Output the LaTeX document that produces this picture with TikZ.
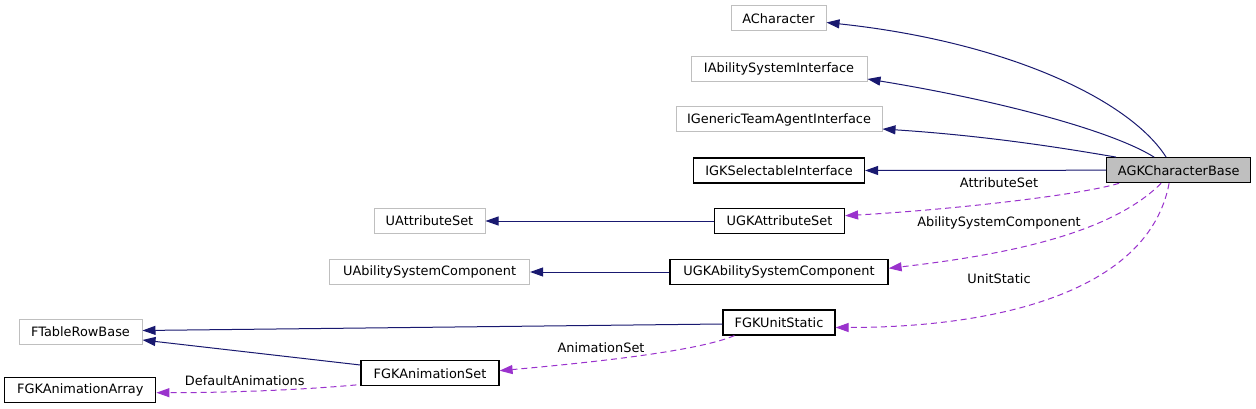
\documentclass[tikz,border=0pt]{standalone}
\usepackage{fontspec}
\setmainfont{DejaVu Sans}
\usetikzlibrary{arrows.meta}
\definecolor{navyedge}{HTML}{191970}
\definecolor{purpedge}{HTML}{9A32CD}
\definecolor{grayborder}{HTML}{BFBFBF}
\begin{document}
\begin{tikzpicture}[x=1pt,y=-1pt,
  box/.style={draw=black,line width=1.2pt,minimum height=25pt,inner sep=0pt,font=\fontsize{12.9}{15}\selectfont},
  extbox/.style={box,draw=grayborder,line width=1pt},
  mainbox/.style={box,fill=grayborder},
  lbl/.style={inner sep=0pt,font=\fontsize{12.9}{15}\selectfont},
  inh/.style={draw=navyedge,line width=1pt,-{Triangle[length=13pt,width=9pt]}},
  use/.style={draw=purpedge,line width=1pt,dash pattern=on 6pt off 4pt,-{Triangle[length=13pt,width=9pt]}}
]
\fill[white] (0,0) rectangle (1256,409);
\useasboundingbox (0,0) rectangle (1256,409);

% nodes
\node[extbox,minimum width=95pt]  (achar)   at (778.5,18.5) {ACharacter};
\node[extbox,minimum width=176pt] (iabil)   at (779,69)     {IAbilitySystemInterface};
\node[extbox,minimum width=206pt] (igen)    at (779,119.5)  {IGenericTeamAgentInterface};
\node[box,minimum width=171pt]    (igk)     at (779,170.5)  {IGKSelectableInterface};
\node[mainbox,minimum width=144pt] (agk)    at (1178.7,170.2) {AGKCharacterBase};
\node[extbox,minimum width=111pt] (uattr)   at (429.5,221)  {UAttributeSet};
\node[box,minimum width=130pt]    (ugkattr) at (779.5,221)  {UGKAttributeSet};
\node[extbox,minimum width=200pt] (uasc)    at (429.6,272)  {UAbilitySystemComponent};
\node[box,minimum width=218pt]    (ugkasc)  at (779,272)    {UGKAbilitySystemComponent};
\node[extbox,minimum width=123pt] (ftable)  at (80.5,331.5) {FTableRowBase};
\node[box,minimum width=112pt]    (fgkunit) at (779,322.5)  {FGKUnitStatic};
\node[box,minimum width=138pt]    (fgkaset) at (430,373.3)  {FGKAnimationSet};
\node[box,minimum width=151pt]    (fgkaarr) at (80.3,390.3) {FGKAnimationArray};

% labels
\node[lbl] (lattr) at (999,183)   {AttributeSet};
\node[lbl] (lasc)  at (999,222.7) {AbilitySystemComponent};
\node[lbl] (lunit) at (999,278.7) {UnitStatic};
\node[lbl] (laset) at (601,347.3) {AnimationSet};
\node[lbl] (ldef)  at (244.8,380.7) {DefaultAnimations};

% inheritance edges
\draw[inh] ([xshift=60pt]agk.north west) .. controls +(-37,-58) and +(179,19) .. ([yshift=-4pt]achar.east);
\draw[inh] ([xshift=48pt]agk.north west) .. controls +(-45,-28) and +(123,20) .. ([yshift=-10pt]iabil.east);
\draw[inh] ([xshift=10pt]agk.north west) .. controls +(-47,-8) and +(108,7) .. ([yshift=-9.5pt]igen.east);
\draw[inh] (agk.west) -- (igk.east);
\draw[inh] (ugkattr.west) -- (uattr.east);
\draw[inh] (ugkasc.west) -- (uasc.east);
\draw[inh] ([yshift=-1.5pt]fgkunit.west) -- ([yshift=1pt]ftable.east);
\draw[inh] ([yshift=8.3pt]fgkaset.west) -- ([yshift=-8.5pt]ftable.east);

% usage edges
\draw[use] ([xshift=13pt]agk.south west) .. controls +(-40,12) and +(106,-6) .. ([yshift=5.3pt]ugkattr.east);
\draw[use] ([xshift=55pt]agk.south west) .. controls +(-52,52) and +(112,-13) .. ([yshift=3.7pt]ugkasc.east);
\draw[use] ([xshift=63pt]agk.south west) .. controls +(-20,107) and +(165,0) .. ([yshift=-5pt]fgkunit.east);
\draw[use] ([xshift=12pt]fgkunit.south west) .. controls +(-35,15) and +(101,-9) .. ([yshift=2.6pt]fgkaset.east);
\draw[use] ([yshift=1.5pt,xshift=-4pt]fgkaset.south west) .. controls +(-55,5) and +(74,0) .. ([yshift=-2.4pt]fgkaarr.east);
\end{tikzpicture}
\end{document}
